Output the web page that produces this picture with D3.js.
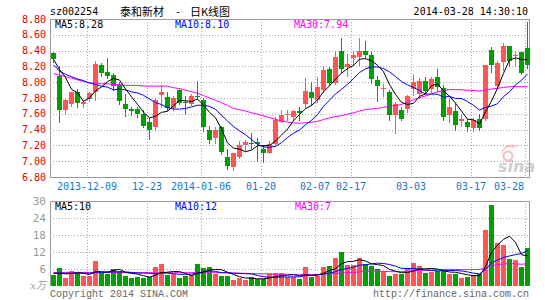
<!DOCTYPE html>
<html>
<head>
<meta charset="utf-8">
<script src="https://cdn.jsdelivr.net/npm/d3@7"></script>
<style>
  body { margin: 0; background: #fff; }
  svg { display: block; }
  text { font-family: "DejaVu Sans Mono", monospace; font-size: 10px; }
</style>
</head>
<body>
<div id="chart"></div>
<script>
const dates = [
  "2013-11-29","2013-12-02","2013-12-03","2013-12-04","2013-12-05","2013-12-06",
  "2013-12-09","2013-12-10","2013-12-11","2013-12-12","2013-12-13",
  "2013-12-16","2013-12-17","2013-12-18","2013-12-19","2013-12-20",
  "2013-12-23","2013-12-24","2013-12-25","2013-12-26","2013-12-27",
  "2013-12-30","2013-12-31","2014-01-02","2014-01-03",
  "2014-01-06","2014-01-07","2014-01-08","2014-01-09","2014-01-10",
  "2014-01-13","2014-01-14","2014-01-15","2014-01-16","2014-01-17",
  "2014-01-20","2014-01-21","2014-01-22","2014-01-23","2014-01-24",
  "2014-01-27","2014-01-28","2014-01-29","2014-01-30","2014-02-07",
  "2014-02-10","2014-02-11","2014-02-12","2014-02-13","2014-02-14",
  "2014-02-17","2014-02-18","2014-02-19","2014-02-20","2014-02-21",
  "2014-02-24","2014-02-25","2014-02-26","2014-02-27","2014-02-28",
  "2014-03-03","2014-03-04","2014-03-05","2014-03-06","2014-03-07",
  "2014-03-10","2014-03-11","2014-03-12","2014-03-13","2014-03-14",
  "2014-03-17","2014-03-18","2014-03-19","2014-03-20","2014-03-21",
  "2014-03-24","2014-03-25","2014-03-26","2014-03-27","2014-03-28"
];

const opens = [
  8.37,8.08,7.65,7.73,7.88,7.73,7.79,7.87,8.22,8.13,
  8.09,7.97,7.73,7.66,7.66,7.60,7.49,7.43,7.84,7.81,
  7.67,7.90,7.75,7.72,7.83,7.77,7.39,7.30,7.43,7.05,
  6.93,7.05,7.20,7.23,7.24,7.16,7.11,7.22,7.50,7.58,
  7.56,7.63,7.73,7.87,7.78,7.90,8.17,7.99,8.39,8.19,
  8.31,8.32,8.40,8.35,8.03,7.91,7.88,7.58,7.65,7.66,
  7.92,7.85,8.02,7.91,8.06,7.93,7.59,7.63,7.51,7.49,
  7.42,7.54,7.54,8.41,7.95,8.25,8.46,8.33,8.38,8.43
];
const highs = [
  8.38,8.21,7.79,7.88,7.92,7.77,7.88,8.27,8.24,8.30,
  8.12,8.00,7.85,7.69,7.69,7.65,7.55,7.80,7.96,7.88,
  7.83,7.92,7.82,7.85,8.02,7.80,7.44,7.43,7.44,7.16,
  7.11,7.26,7.27,7.36,7.29,7.20,7.25,7.56,7.65,7.65,
  7.65,7.68,8.05,8.00,8.06,8.21,8.19,8.40,8.56,8.36,
  8.39,8.56,8.52,8.38,8.08,7.98,7.90,7.75,7.69,7.84,
  8.10,8.05,8.06,8.06,8.17,7.96,7.80,7.74,7.58,7.54,
  7.55,7.60,8.22,8.44,8.27,8.49,8.46,8.40,8.38,8.76
];
const lows = [
  8.26,7.50,7.60,7.70,7.69,7.69,7.76,7.78,8.08,8.05,
  7.90,7.72,7.57,7.59,7.56,7.43,7.28,7.39,7.68,7.65,
  7.65,7.72,7.60,7.71,7.79,7.38,7.23,7.23,7.09,6.90,
  6.89,7.04,7.14,7.17,7.00,6.99,7.10,7.21,7.49,7.52,
  7.52,7.52,7.69,7.71,7.75,7.88,7.97,7.98,8.13,8.08,
  8.22,8.22,8.31,7.99,7.76,7.82,7.52,7.36,7.52,7.62,
  7.84,7.80,7.85,7.88,7.89,7.52,7.49,7.40,7.44,7.38,
  7.38,7.40,7.52,8.13,7.93,8.15,8.20,8.20,8.10,8.18
];
const closes = [
  8.29,7.65,7.78,7.87,7.74,7.75,7.86,8.23,8.12,8.08,
  7.95,7.76,7.66,7.63,7.60,7.45,7.40,7.77,7.87,7.67,
  7.80,7.74,7.74,7.83,7.82,7.43,7.27,7.40,7.12,6.94,
  7.10,7.20,7.24,7.22,7.22,7.10,7.22,7.52,7.59,7.60,
  7.63,7.61,7.89,7.80,7.94,8.15,7.99,8.32,8.17,8.23,
  8.35,8.39,8.35,8.04,7.95,7.93,7.58,7.73,7.53,7.82,
  8.00,8.02,7.89,8.04,7.94,7.56,7.68,7.46,7.53,7.43,
  7.52,7.42,8.22,8.22,8.24,8.46,8.27,8.35,8.12,8.22
];
// volume, 10k lots
const volumes = [
  4.0,6.3,2.8,5.4,4.7,3.5,3.5,8.8,4.7,4.4,
  6.1,5.4,3.4,3.0,3.2,3.0,3.1,6.7,7.7,3.9,
  4.2,3.0,3.4,3.9,7.7,6.4,6.7,4.4,3.5,3.5,
  2.2,2.9,2.0,3.2,2.3,2.3,4.2,4.7,4.7,3.2,
  3.2,2.4,6.6,3.3,3.7,6.6,7.0,9.9,12.1,7.3,
  7.3,9.8,7.6,7.0,6.1,5.3,3.4,4.3,4.3,6.5,
  8.0,7.0,4.6,4.9,5.4,5.4,4.4,4.1,2.8,3.1,
  3.8,4.3,19.9,28.6,15.2,14.5,9.6,9.1,6.6,13.5
];

// moving averages on the first days need data left of the chart
const ma5Head = [8.29, 8.16, 8.06, 7.91];
const ma10Head = [8.22, 8.14, 8.10, 8.07, 8.04, 8.02, 7.99, 7.97, 7.95];
const ma30Head = [
  8.11,8.09,8.07,8.05,8.03,8.01,7.99,7.99,7.98,7.98,
  7.97,7.97,7.96,7.96,7.96,7.95,7.95,7.95,7.95,7.95,
  7.93,7.92,7.90,7.88,7.86,7.83,7.80,7.77,7.74
];
const volMa5Head = [4.4, 4.5, 4.3, 4.4];
const volMa10Head = [4.5, 4.6, 4.5, 4.5, 4.6, 4.5, 4.5, 4.7, 4.7];
const volMa30Head = [
  4.8,4.8,4.8,4.8,4.8,4.8,4.8,4.8,4.8,4.8,
  4.8,4.8,4.8,4.8,4.7,4.7,4.7,4.7,4.7,4.7,
  4.7,4.7,4.7,4.7,4.7,4.7,4.7,4.7,4.7
];

const priceTicks = [6.8, 7.0, 7.2, 7.4, 7.6, 7.8, 8.0, 8.2, 8.4, 8.6, 8.8];
const volTicks = [6, 12, 18, 24, 30];
const tickDates = ["2013-12-09","2013-12-23","2014-01-06","2014-01-20","2014-02-07",
                   "2014-02-17","2014-03-03","2014-03-17","2014-03-28"];
const tickLabels = ["2013-12-09","12-23","2014-01-06","01-20","02-07",
                    "02-17","03-03","03-17","03-28"];

const RED = "#ff5555", GREEN = "#00a000";
const GRID = "#a8a8a8", FRAME = "#999";

function movingAvg(values, n, head) {
  return values.map((v, i) => i < n - 1 ? head[i] : d3.mean(values.slice(i - n + 1, i + 1)));
}

const W = 545, H = 300;
const left = 50, right = 530;
const priceTop = 19, priceBottom = 177;
const volTop = 201, volBottom = 286;

const svg = d3.select("#chart").append("svg")
  .attr("width", W)
  .attr("height", H);

const x = d3.scaleBand()
  .domain(dates)
  .range([left, right])
  .paddingInner(1 / 6)
  .paddingOuter(1 / 12);
const bx = d => Math.round(x(d));

const y = d3.scaleLinear().domain([6.8, 8.8]).range([priceBottom, priceTop]);
const yv = d3.scaleLinear().domain([0, 30]).range([volBottom, volTop]);

const rows = dates.map((d, i) => ({
  date: d, o: opens[i], h: highs[i], l: lows[i], c: closes[i], v: volumes[i]
}));
const up = r => r.c >= r.o;

// ---- header texts
svg.append("text").attr("x", 50).attr("y", 15).text("sz002254");
svg.append("text").attr("x", 120).attr("y", 15.5)
  .style("font-family", "'Noto Sans CJK SC'").style("font-size", "11px")
  .text("泰和新材");
svg.append("text").attr("x", 175).attr("y", 15).text("-");
svg.append("text").attr("x", 190).attr("y", 15.5)
  .style("font-family", "'Noto Sans CJK SC'").style("font-size", "11px")
  .text("日K线图");
svg.append("text").attr("x", 528).attr("y", 15).attr("text-anchor", "end")
  .text("2014-03-28 14:30:10");

// ---- grids
function hGrid(scale, ticks, skip) {
  svg.append("g").selectAll("line")
    .data(ticks.filter(t => !skip.includes(t)))
    .join("line")
    .attr("x1", left).attr("x2", right)
    .attr("y1", t => Math.round(scale(t)) + 0.5)
    .attr("y2", t => Math.round(scale(t)) + 0.5)
    .attr("stroke", GRID).attr("stroke-dasharray", "1,2");
}
function vGrid(top, bottom) {
  svg.append("g").selectAll("line")
    .data(tickDates)
    .join("line")
    .attr("x1", d => bx(d) + 0.5).attr("x2", d => bx(d) + 0.5)
    .attr("y1", top).attr("y2", bottom)
    .attr("stroke", GRID).attr("stroke-dasharray", "1,2");
}
hGrid(y, priceTicks, [6.8, 8.8]);
vGrid(priceTop, priceBottom);
hGrid(yv, volTicks, [30]);
vGrid(volTop, volBottom);

// ---- frames
svg.append("rect")
  .attr("x", left + 0.5).attr("y", priceTop + 0.5)
  .attr("width", right - left - 1).attr("height", priceBottom - priceTop)
  .attr("fill", "none").attr("stroke", FRAME);
svg.append("path")
  .attr("d", `M${left + 0.5},${volBottom}V${volTop + 0.5}H${right - 0.5}V${volBottom}`)
  .attr("fill", "none").attr("stroke", FRAME);

// ---- axis labels
svg.append("g").selectAll("text")
  .data(priceTicks)
  .join("text")
  .attr("x", 46).attr("y", t => y(t) + 3.5)
  .attr("text-anchor", "end")
  .attr("fill", "#e00000")
  .text(d3.format(".2f"));

svg.append("g").selectAll("text")
  .data(tickDates)
  .join("text")
  .attr("x", (d, i) => i === tickDates.length - 1 ? bx(d) - 1 : bx(d))
  .attr("y", 190)
  .attr("text-anchor", (d, i) => i === tickDates.length - 1 ? "end" : "middle")
  .attr("fill", "#1478c8")
  .text((d, i) => tickLabels[i]);

svg.append("g").selectAll("text")
  .data(volTicks)
  .join("text")
  .attr("x", 46).attr("y", t => yv(t) + 3.5)
  .attr("text-anchor", "end")
  .attr("fill", "#999")
  .style("font-size", "11px")
  .text(d => d);
svg.append("text").attr("x", 46).attr("y", 289).attr("text-anchor", "end")
  .attr("fill", "#999")
  .style("font-family", "'DejaVu Serif', 'Noto Sans CJK SC'").style("font-style", "italic")
  .text("x万");

// ---- sina watermark
const wm = svg.append("g").attr("opacity", 0.55);
wm.append("circle").attr("cx", 508).attr("cy", 156).attr("r", 4.5)
  .attr("fill", "none").attr("stroke", "#f08a8a").attr("stroke-width", 2);
wm.append("path").attr("d", "M503,150 Q508,144 515,148 M501,153 Q508,141 518,147")
  .attr("fill", "none").attr("stroke", "#f08a8a").attr("stroke-width", 1.2);
wm.append("text").attr("x", 498).attr("y", 172)
  .style("font-family", "'DejaVu Sans'").style("font-size", "16px")
  .style("font-style", "italic").style("font-weight", "bold")
  .attr("fill", "#a8a8a8").text("sina");

// ---- candles
const candles = svg.append("g");
candles.selectAll("line")
  .data(rows)
  .join("line")
  .attr("x1", d => bx(d.date) + 2.5).attr("x2", d => bx(d.date) + 2.5)
  .attr("y1", d => Math.round(y(d.h))).attr("y2", d => Math.round(y(d.l)) + 1)
  .attr("stroke", d => up(d) ? RED : GREEN);
candles.selectAll("rect")
  .data(rows)
  .join("rect")
  .attr("x", d => bx(d.date))
  .attr("width", x.bandwidth())
  .attr("y", d => Math.round(y(Math.max(d.o, d.c))))
  .attr("height", d => Math.max(1, Math.round(y(Math.min(d.o, d.c))) - Math.round(y(Math.max(d.o, d.c)))))
  .attr("fill", d => up(d) ? RED : GREEN);

// ---- volume bars
svg.append("g").selectAll("rect")
  .data(rows)
  .join("rect")
  .attr("x", d => bx(d.date))
  .attr("width", x.bandwidth())
  .attr("y", d => Math.round(yv(d.v)))
  .attr("height", d => volBottom - Math.round(yv(d.v)))
  .attr("fill", d => up(d) ? RED : GREEN);

// ---- moving average lines
function maLine(values, scale, color) {
  svg.append("path")
    .datum(values)
    .attr("fill", "none")
    .attr("stroke", color)
    .attr("stroke-width", 1)
    .attr("d", d3.line()
      .x((v, i) => bx(dates[i]) + 2.5)
      .y(v => scale(v)));
}
const ma5 = movingAvg(closes, 5, ma5Head);
const ma10 = movingAvg(closes, 10, ma10Head);
const ma30 = movingAvg(closes, 30, ma30Head);
maLine(ma30, y, "#ff00ff");
maLine(ma10, y, "#0000ff");
maLine(ma5, y, "#000");

const vma5 = movingAvg(volumes, 5, volMa5Head);
const vma10 = movingAvg(volumes, 10, volMa10Head);
const vma30 = movingAvg(volumes, 30, volMa30Head);
maLine(vma30, yv, "#ff00ff");
maLine(vma10, yv, "#0000ff");
maLine(vma5, yv, "#000");

// ---- legends
const fmt2 = d3.format(".2f");
const last = closes.length - 1;
svg.append("text").attr("x", 55).attr("y", 27.5).attr("fill", "#000")
  .text("MA5:" + fmt2(ma5[last]));
svg.append("text").attr("x", 175).attr("y", 27.5).attr("fill", "#0000ff")
  .text("MA10:" + fmt2(ma10[last]));
svg.append("text").attr("x", 294).attr("y", 27.5).attr("fill", "#ff00ff")
  .text("MA30:" + fmt2(ma30[last]));

svg.append("text").attr("x", 55).attr("y", 210).attr("fill", "#000")
  .text("MA5:" + Math.floor(vma5[last]));
svg.append("text").attr("x", 175).attr("y", 210).attr("fill", "#0000ff")
  .text("MA10:" + Math.floor(vma10[last]));
svg.append("text").attr("x", 295).attr("y", 210).attr("fill", "#ff00ff")
  .text("MA30:" + Math.floor(vma30[last]));

// ---- footer
svg.append("text").attr("x", 50).attr("y", 296.5).attr("fill", "#666")
  .style("font-family", "'Liberation Mono', monospace")
  .text("Copyright 2014 SINA.COM");
svg.append("text").attr("x", 529).attr("y", 296.5).attr("text-anchor", "end").attr("fill", "#666")
  .style("font-family", "'Liberation Mono', monospace")
  .text("http://finance.sina.com.cn");
</script>
</body>
</html>
